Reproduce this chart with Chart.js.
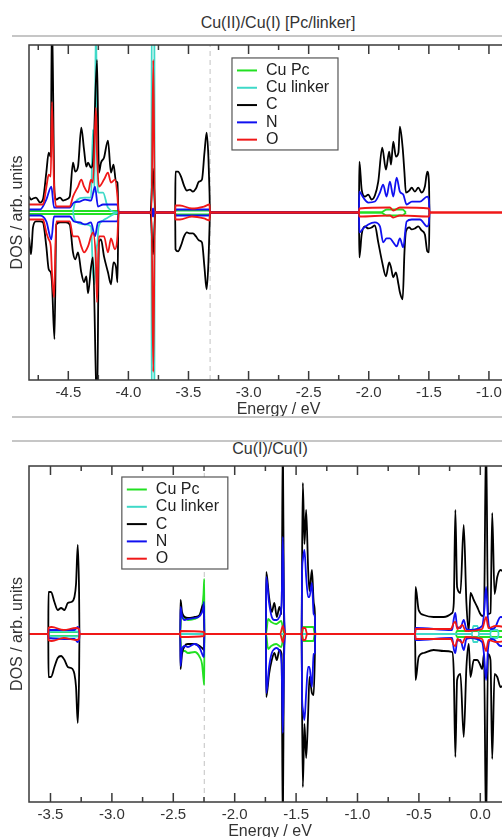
<!DOCTYPE html>
<html>
<head>
<meta charset="utf-8">
<script src="https://cdn.jsdelivr.net/npm/chart.js@4"></script>
<style>
  body { margin: 0; background: #fff; font-family: "Liberation Sans", Arial, sans-serif; }
  #page { position: relative; width: 502px; height: 837px; overflow: hidden; }
  .title { position: absolute; font-size: 16px; color: #333; white-space: nowrap; transform: translateX(-50%); line-height: 18px; }
  .rule { position: absolute; left: 12px; width: 490px; height: 2px; background: #c6c6c6; }
  .box { position: absolute; left: 0; }
</style>
</head>
<body>
<div id="page">
  <div class="title" style="left:278px;top:14px">Cu(II)/Cu(I) [Pc/linker]</div>
  <div class="rule" style="top:35px"></div>
  <div class="box" style="top:40px;width:540px;height:379px"><canvas id="top"></canvas></div>
  <div class="rule" style="top:416px"></div>
  <div class="rule" style="top:440px"></div>
  <div class="title" style="left:270px;top:440px">Cu(I)/Cu(I)</div>
  <div class="box" style="top:461px;width:523px;height:380px"><canvas id="bottom"></canvas></div>
</div>
<script>
// legend / colours
const legendLabels = ['Cu Pc', 'Cu linker', 'C', 'N', 'O'];
const seriesColors = ['#22e022', '#3fd9c8', '#000000', '#1010f0', '#f01818'];

// ---- top panel: Cu(II)/Cu(I) [Pc/linker] ----
const topRange = [-4.827, -0.675];
const topTicks = [-4.75, -4.5, -4.25, -4.0, -3.75, -3.5, -3.25, -3.0, -2.75, -2.5, -2.25, -2.0, -1.75, -1.5, -1.25, -1.0, -0.75];
const topFermi = -3.32;

const topE_C = [-4.827,-4.810,-4.794,-4.769,-4.735,-4.711,-4.683,-4.663,-4.646,-4.636,-4.615,-4.600,-4.569,-4.544,-4.519,-4.488,-4.461,-4.442,-4.419,-4.392,-4.369,-4.350,-4.336,-4.311,-4.295,-4.261,-4.245,-4.228,-4.203,-4.170,-4.145,-4.124,-4.103,-4.091,-4.082,
  -3.816,-3.795,-3.775,
  -3.611,-3.608,-3.587,-3.562,-3.537,-3.513,-3.488,-3.463,-3.438,-3.413,-3.388,-3.367,-3.349,-3.334,-3.325,-3.321,
  -2.082,-2.078,-2.059,-2.032,-2.004,-1.976,-1.949,-1.921,-1.888,-1.857,-1.830,-1.815,-1.796,-1.774,-1.753,-1.741,-1.718,-1.703,-1.691,-1.663,-1.643,-1.616,-1.588,-1.560,-1.533,-1.513,-1.499,-1.495];
const topUp_C = [1.6,1.3,1.4,1.5,1.0,1.3,4.0,6.0,5.6,20,2.0,1.3,1.5,1.2,1.3,1.6,5.0,4.1,4.6,8.5,6.3,4.6,5.0,4.5,5.0,15.3,4.0,5.0,5.5,7.2,4.0,4.8,3.1,3.0,0,
  0,4.4,0,
  0,4.1,4.1,3.6,2.7,2.2,2.3,2.1,2.4,3.1,3.3,6.0,8.0,5.5,2.0,0,
  0,5.1,2.3,1.6,1.8,1.3,1.7,3.1,6.5,4.3,6.1,4.8,7.1,5.6,6.0,8.6,6.5,4.0,2.0,2.2,2.5,2.1,2.5,2.0,2.6,4.1,3.0,0];
const topDn_C = [-2.5,-4.2,-1.5,-0.9,-0.9,-1.0,-3.4,-5.7,-6.0,-7.0,-12.7,-1.2,-1.0,-1.0,-1.0,-1.2,-4.0,-4.7,-4.0,-6.0,-7.0,-6.4,-8.1,-5.5,-4.5,-20,-3.0,-2.7,-4.4,-6.0,-7.2,-5.0,-5.5,-7.0,0,
  0,-4.2,0,
  0,-3.7,-3.9,-3.3,-2.4,-2.0,-2.1,-2.1,-2.4,-2.8,-3.0,-5.5,-7.7,-5.0,-1.5,0,
  0,-4.5,-2.2,-1.4,-1.6,-1.5,-1.3,-3.0,-5.0,-6.4,-5.0,-5.5,-6.5,-6.0,-7.2,-8.0,-8.7,-4.0,-1.9,-1.5,-1.7,-1.6,-1.4,-1.8,-2.2,-3.9,-4.0,0];

const topE_N = [-4.827,-4.735,-4.683,-4.641,-4.619,-4.586,-4.488,-4.453,-4.403,-4.361,-4.311,-4.278,-4.253,-4.211,-4.153,-4.091,-4.082,
  -3.804,-3.795,-3.786,
  -3.611,-3.608,-3.325,-3.321,
  -2.082,-2.078,-2.046,-2.004,-1.949,-1.907,-1.880,-1.852,-1.824,-1.796,-1.768,-1.741,-1.713,-1.685,-1.641,-1.574,-1.513,-1.499,-1.495];
const topUp_N = [0.3,0.3,1.3,2.6,0.5,0.5,0.5,1.0,1.1,1.3,1.2,2.6,0.6,0.8,0.8,0.8,0,
  0,0.4,0,
  0,0.3,0.3,0,
  0,2.1,1.5,1.0,1.1,2.0,2.8,1.6,3.1,1.6,3.5,2.1,1.8,0.8,1.1,1.1,1.6,1.2,0];
const topDn_N = [-0.3,-0.3,-0.9,-2.7,-0.4,-0.4,-0.4,-0.9,-1.0,-1.2,-1.0,-2.4,-1.0,-0.9,-0.9,-0.9,0,
  0,-0.4,0,
  0,-0.3,-0.3,0,
  0,-2.0,-1.6,-1.2,-1.0,-1.4,-3.0,-2.6,-2.6,-3.0,-3.4,-2.6,-3.5,-0.9,-0.7,-0.7,-1.4,-1.0,0];

const topE_O = [-4.827,-4.711,-4.683,-4.663,-4.646,-4.636,-4.619,-4.600,-4.488,-4.461,-4.419,-4.392,-4.369,-4.336,-4.311,-4.295,-4.270,-4.261,-4.245,-4.203,-4.170,-4.145,-4.112,-4.091,-4.082,
  -3.808,-3.793,-3.779,
  -3.611,-3.608,-3.571,-3.471,-3.371,-3.325,-3.321,
  -2.082,-2.078,-1.824,-1.796,-1.741,-1.499,-1.495,
  -0.675];
const topUp_O = [0.8,0.8,2.5,3.8,3.6,11.1,3.0,0.6,0.6,1.6,2.6,3.3,2.6,2.0,3.3,3.0,10.5,6.0,2.6,3.3,4.0,3.0,3.3,1.6,0,
  0,15.3,0,
  0,0.7,0.7,0.4,0.6,0.8,0,
  0,0.4,0.5,0.2,0.5,0.4,0,
  0];
const topDn_O = [-0.7,-0.7,-2.0,-2.7,-3.4,-6.0,-8.5,-0.9,-0.9,-2.4,-2.4,-3.4,-4.0,-3.4,-2.4,-2.0,-5.0,-9.0,-2.4,-2.4,-4.0,-2.6,-3.7,-2.4,0,
  0,-16,0,
  0,-0.7,-0.7,-0.4,-0.6,-0.8,0,
  0,-0.4,-0.3,-0.5,-0.3,-0.4,0,
  0];

const topE_L = [-4.461,-4.444,-4.361,-4.311,-4.295,-4.282,-4.270,-4.257,-4.249,-4.211,-4.170,-4.082, -3.808,-3.806,-3.784,-3.782];
const topUp_L = [0,1.0,1.5,1.5,8.3,2.0,20,3.0,2.0,2.0,0.5,0, 0,20,20,0];
const topDn_L = [0,-0.8,-1.2,-1.4,-6.0,-7.2,-4.0,-3.0,-1.5,-0.8,-0.5,0, 0,-20,-20,0];

const topE_P = [-4.827,-4.085,-4.082,-3.611,-3.608,-3.325,-3.321,-1.900,-1.850,-1.720,-1.690];
const topUp_P = [0.15,0.15,0,0,0.2,0.2,0,0,0.3,0.3,0];
const topDn_P = [-0.15,-0.15,0,0,-0.2,-0.2,0,0,-0.3,-0.3,0];

// ---- bottom panel: Cu(I)/Cu(I) ----
const botRange = [-3.675, 0.25];
const botTicks = [-3.5, -3.25, -3.0, -2.75, -2.5, -2.25, -2.0, -1.75, -1.5, -1.25, -1.0, -0.75, -0.5, -0.25, 0.0];
const botFermi = -2.247;

const botE_C = [-3.518,-3.516,-3.496,-3.468,-3.441,-3.414,-3.386,-3.359,-3.332,-3.305,-3.292,-3.278,-3.267,-3.264,
  -2.443,-2.441,-2.429,-2.407,-2.381,-2.326,-2.285,-2.258,-2.250,-2.247,
  -1.746,-1.743,-1.720,-1.698,-1.677,-1.657,-1.636,-1.618,-1.608,-1.599,-1.589,
  -1.455,-1.452,-1.445,-1.432,-1.418,-1.402,-1.391,-1.371,-1.357,-1.347,-1.344,
  -0.531,-0.527,-0.502,-0.461,-0.380,-0.298,-0.229,-0.216,-0.203,-0.189,-0.162,-0.135,-0.113,-0.094,-0.080,-0.053,-0.025,-0.004,0.015,0.030,0.047,0.063,0.083,0.097,0.116,0.138,0.165,0.205,0.250];
const botUp_C = [0,4.2,4.2,3.2,2.4,2.6,2.4,3.1,3.2,3.7,5.0,8.9,4.0,0,
  0,3.4,2.2,1.7,1.6,1.7,1.9,2.9,2.5,0,
  0,6.2,3.7,2.2,3.1,1.7,2.7,2.0,20,2.0,0,
  0,6.0,15.1,9.0,12.4,6.5,4.3,6.4,3.2,2.0,0,
  0,4.7,2.4,1.9,1.7,1.7,2.1,3.1,12.4,4.7,4.1,10.9,3.1,0.3,4.1,3.4,2.7,2.1,1.8,2.0,20,2.0,2.1,12.1,4.0,5.7,6.4,6.0,5.5];
const botDn_C = [0,-4.3,-4.3,-3.3,-2.4,-2.2,-2.6,-3.3,-3.4,-4.0,-5.3,-8.9,-4.0,0,
  0,-3.5,-2.0,-1.2,-1.0,-1.0,-1.2,-1.5,-1.6,0,
  0,-6.3,-4.0,-2.6,-1.9,-2.6,-1.6,-2.0,-20,-2.0,0,
  0,-6.0,-15.3,-9.0,-12.4,-8.0,-4.3,-5.9,-6.1,-2.0,0,
  0,-4.6,-2.3,-1.9,-1.6,-1.7,-1.8,-3.9,-12.3,-4.6,-4.0,-10.3,-3.3,-1.0,-4.3,-2.6,-2.6,-3.0,-3.5,-2.0,-20,-2.0,-2.6,-12.5,-4.0,-4.3,-5.3,-5.0,-5.0];

const botE_N = [-3.518,-3.516,-3.305,-3.278,-3.267,-3.264,
  -2.443,-2.441,-2.429,-2.407,-2.381,-2.326,-2.285,-2.258,-2.250,-2.247,
  -1.746,-1.743,-1.720,-1.698,-1.677,-1.657,-1.636,-1.618,-1.608,-1.599,-1.589,
  -1.455,-1.452,-1.445,-1.432,-1.418,-1.402,-1.391,-1.371,-1.357,-1.347,-1.344,
  -0.531,-0.527,-0.229,-0.216,-0.203,-0.189,-0.162,-0.135,-0.113,-0.080,0.015,0.030,0.047,0.063,0.083,0.116,0.165,0.250];
const botUp_N = [0,0.4,0.4,0.7,0.5,0,
  0,2.7,1.8,1.4,1.5,1.6,1.8,2.5,3.2,0,
  0,5.7,3.1,1.7,1.4,1.4,1.7,3.1,9.7,3.0,0,
  0,5.7,7.4,8.4,5.7,3.7,3.7,5.1,2.0,1.7,0,
  0,0.6,0.4,1.5,2.1,0.7,0.6,1.4,0.5,0.4,0.8,2.0,4.7,1.5,0.5,0.6,1.7,1.5];
const botDn_N = [0,-0.4,-0.5,-0.8,-0.6,0,
  0,-3.2,-1.5,-1.2,-1.3,-1.0,-1.4,-2.2,-2.3,0,
  0,-5.9,-3.3,-1.9,-1.5,-1.4,-1.7,-3.0,-9.9,-3.0,0,
  0,-5.9,-7.5,-8.6,-5.9,-3.3,-3.3,-5.3,-2.0,-1.9,0,
  0,-0.6,-0.4,-1.5,-1.9,-0.7,-0.6,-1.6,-0.5,-0.4,-0.8,-2.0,-4.6,-1.5,-0.5,-0.6,-1.2,-1.2];

const botE_O = [-3.675,-3.518,-3.516,-3.490,-3.392,-3.294,-3.267,-3.264,-2.443,-2.441,-2.250,-2.247,-1.630,-1.608,-1.589,-1.455,-1.446,-1.426,-1.410,-0.531,-0.527,-0.240,-0.216,-0.203,-0.186,-0.145,-0.120,0.015,0.047,0.067,0.124,0.250];
const botUp_O = [0,0,0.6,0.7,0.4,0.6,0.5,0,0,0.3,0.2,0,0,0.8,0,0,0.6,0.6,0,0,0.5,0.5,1.1,1.2,0.5,0.9,0.3,0.5,1.7,0.6,0.8,0.6];
const botDn_O = [0,0,-0.6,-0.7,-0.4,-0.6,-0.5,0,0,-0.3,-0.2,0,0,-0.8,0,0,-0.6,-0.6,0,0,-0.5,-0.5,-1.1,-1.2,-0.5,-0.9,-0.3,-0.5,-1.7,-0.6,-0.8,-0.6];

const botE_L = [-3.516,-3.500,-3.280,-3.264,-0.070,-0.056,-0.023,-0.010,0.080,0.090,0.140,0.150];
const botUp_L = [0,0.25,0.25,0,0,0.8,0.8,0,0,0.4,0.4,0];
const botDn_L = [0,-0.25,-0.25,0,0,-0.8,-0.8,0,0,-0.4,-0.4,0];

const botE_P = [-3.516,-3.510,-3.270,-3.264, -2.443,-2.437,-2.407,-2.381,-2.326,-2.285,-2.266,-2.254,-2.248,-2.247, -1.745,-1.728,-1.703,-1.662,-1.621,-1.597, -1.452,-1.440,-1.360,-1.347, -0.200,-0.190,0.250];
const botUp_P = [0,0.2,0.2,0, 0,2.0,1.6,1.4,1.5,1.9,2.6,4.0,5.5,0, 0,1.5,1.2,1.0,1.3,0, 0,0.7,0.7,0, 0,0.3,0.3];
const botDn_P = [0,-0.2,-0.2,0, 0,-1.6,-1.7,-1.9,-1.8,-2.3,-3.0,-4.5,-5.1,0, 0,-1.5,-1.2,-1.0,-1.3,0, 0,-0.7,-0.7,0, 0,-0.3,-0.3];

const yLimit = 16.8;
const FONT = '"Liberation Sans", Arial, sans-serif';

function isMajor(v) { return Math.abs(v * 2 - Math.round(v * 2)) < 1e-6; }

function pair(E, up, dn, color, order) {
  const mk = vals => ({
    data: E.map((e, i) => ({ x: e, y: vals[i] })),
    borderColor: color,
    borderWidth: 1.8,
    pointRadius: 0,
    order: order,
    cubicInterpolationMode: 'monotone',
    fill: false
  });
  return [mk(up), mk(dn)];
}

function fermiLine(e) {
  return {
    data: [{ x: e, y: -yLimit }, { x: e, y: yLimit }],
    borderColor: '#d0d0d0', borderWidth: 1.3, borderDash: [5, 4],
    pointRadius: 0, order: 9
  };
}

// box frame with inward ticks on top and bottom
const framePlugin = {
  id: 'frame',
  afterDatasetsDraw(chart) {
    const { ctx, chartArea: a, scales: { x } } = chart;
    ctx.save();
    ctx.strokeStyle = '#3a3a3a';
    ctx.lineWidth = 1.5;
    ctx.strokeRect(a.left, a.top, a.right - a.left, a.bottom - a.top);
    x.ticks.forEach(t => {
      const px = x.getPixelForValue(t.value);
      const len = isMajor(t.value) ? 9 : 5;
      ctx.beginPath();
      ctx.moveTo(px, a.bottom); ctx.lineTo(px, a.bottom - len);
      ctx.moveTo(px, a.top); ctx.lineTo(px, a.top + len);
      ctx.stroke();
    });
    ctx.restore();
  }
};

const boxLegend = {
  id: 'boxLegend',
  afterDraw(chart, args, opts) {
    const { ctx, scales: { x, y } } = chart;
    const left = x.getPixelForValue(opts.x), top = y.getPixelForValue(opts.y);
    ctx.save();
    ctx.fillStyle = '#fff';
    ctx.fillRect(left, top, 106, 92);
    ctx.strokeStyle = '#555';
    ctx.lineWidth = 1.2;
    ctx.strokeRect(left, top, 106, 92);
    ctx.font = '16px ' + FONT;
    ctx.textBaseline = 'middle';
    legendLabels.forEach((lab, i) => {
      const cy = top + 12.5 + i * 17.3;
      ctx.strokeStyle = seriesColors[i];
      ctx.lineWidth = 2;
      ctx.beginPath(); ctx.moveTo(left + 5, cy); ctx.lineTo(left + 25, cy); ctx.stroke();
      ctx.fillStyle = '#222';
      ctx.fillText(lab, left + 34, cy);
    });
    ctx.restore();
  }
};

function makeChart(id, range, tickList, datasets, legendAt) {
  return new Chart(document.getElementById(id), {
    type: 'line',
    data: { datasets: datasets },
    options: {
      responsive: true,
      maintainAspectRatio: false,
      animation: false,
      layout: { padding: { top: 5, right: 12, left: 0, bottom: 0 } },
      plugins: { legend: { display: false }, tooltip: { enabled: false }, boxLegend: legendAt },
      scales: {
        x: {
          type: 'linear', min: range[0], max: range[1],
          afterBuildTicks: s => { s.ticks = tickList.map(v => ({ value: v })); },
          afterFit: s => { s.height = 39; },
          grid: { display: false, drawTicks: false },
          border: { display: false },
          ticks: {
            autoSkip: false, maxRotation: 0, padding: 4, color: '#333',
            font: { size: 15, family: FONT },
            callback: v => isMajor(v) ? v.toFixed(1) : ''
          },
          title: { display: true, text: 'Energy / eV', color: '#333', font: { size: 16, family: FONT }, padding: 0 }
        },
        y: {
          min: -yLimit, max: yLimit,
          afterFit: s => { s.width = 29; },
          grid: { display: false, drawTicks: false },
          border: { display: false },
          ticks: { display: false },
          title: { display: true, text: 'DOS / arb. units', color: '#333', font: { size: 16, family: FONT }, padding: { top: 8, bottom: 0 } }
        }
      }
    },
    plugins: [framePlugin, boxLegend]
  });
}

makeChart('top', topRange, topTicks, [
  ...pair(topE_O, topUp_O, topDn_O, seriesColors[4], 0),
  ...pair(topE_N, topUp_N, topDn_N, seriesColors[3], 1),
  ...pair(topE_C, topUp_C, topDn_C, seriesColors[2], 2),
  ...pair(topE_L, topUp_L, topDn_L, seriesColors[1], 3),
  ...pair(topE_P, topUp_P, topDn_P, seriesColors[0], 4),
  fermiLine(topFermi)
], { x: -3.138, y: 15.5 });

makeChart('bottom', botRange, botTicks, [
  ...pair(botE_O, botUp_O, botDn_O, seriesColors[4], 0),
  ...pair(botE_N, botUp_N, botDn_N, seriesColors[3], 1),
  ...pair(botE_C, botUp_C, botDn_C, seriesColors[2], 2),
  ...pair(botE_L, botUp_L, botDn_L, seriesColors[1], 3),
  ...pair(botE_P, botUp_P, botDn_P, seriesColors[0], 4),
  fermiLine(botFermi)
], { x: -2.919, y: 15.7 });
</script>
</body>
</html>
